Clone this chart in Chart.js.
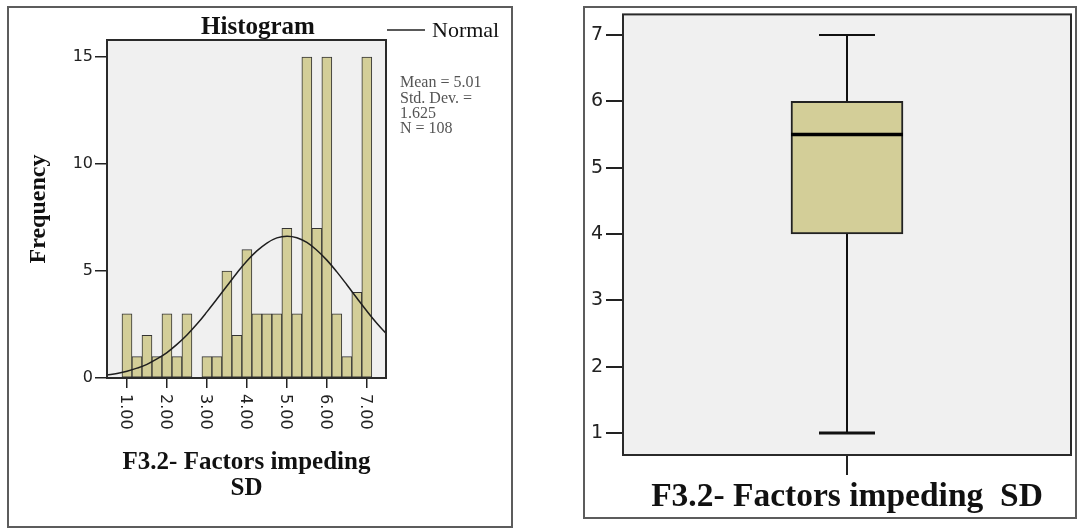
<!DOCTYPE html>
<html lang="en">
<head>
  <meta charset="UTF-8" />
  <title>F3.2- Factors impeding SD</title>
  <script src="https://cdn.jsdelivr.net/npm/chart.js"></script>
  <style>
    body {
      margin: 0;
      background: #fff;
    }
    .page {
      position: relative;
      width: 1080px;
      height: 529px;
      overflow: hidden;
    }
    .frame {
      position: absolute;
      border: 2px solid #5c5c5c;
      box-sizing: border-box;
    }
    .holder {
      position: absolute;
      top: 0;
      height: 529px;
    }
  </style>
</head>
<body>
  <div class="page">
    <div class="frame" style="left:7px;top:6px;width:506px;height:522px"></div>
    <div class="frame" style="left:583px;top:6px;width:494px;height:513px"></div>
    <div class="holder" style="left:0;width:540px"><canvas id="histChart"></canvas></div>
    <div class="holder" style="left:560px;width:520px"><canvas id="boxChart"></canvas></div>
  </div>

  <script>
    // histogram: bin midpoints (width 0.25) and counts
    const binMids = [1.00, 1.25, 1.50, 1.75, 2.00, 2.25, 2.50, 2.75, 3.00, 3.25, 3.50, 3.75, 4.00,
                     4.25, 4.50, 4.75, 5.00, 5.25, 5.50, 5.75, 6.00, 6.25, 6.50, 6.75, 7.00]
    const binCounts = [3, 1, 2, 1, 3, 1, 3, 0, 1, 1, 5, 2, 6, 3, 3, 3, 7, 3, 15, 7, 15, 3, 1, 4, 15]

    // fitted normal curve, sampled every 0.25
    const curveX = [0.50, 0.75, 1.00, 1.25, 1.50, 1.75, 2.00, 2.25, 2.50, 2.75, 3.00, 3.25, 3.50, 3.75, 4.00,
                    4.25, 4.50, 4.75, 5.00, 5.25, 5.50, 5.75, 6.00, 6.25, 6.50, 6.75, 7.00, 7.25, 7.50]
    const curveY = [0.14, 0.21, 0.32, 0.46, 0.64, 0.89, 1.19, 1.57, 2.01, 2.52, 3.09, 3.69, 4.30, 4.91, 5.47,
                    5.94, 6.31, 6.55, 6.63, 6.56, 6.34, 5.97, 5.51, 4.96, 4.36, 3.74, 3.13, 2.56, 2.05]

    const histTickLabels = ['1.00', '2.00', '3.00', '4.00', '5.00', '6.00', '7.00']
    const statLines = ['Mean = 5.01', 'Std. Dev. =', '1.625', 'N = 108']

    // box plot summary
    const boxQuartiles = [4, 6]
    const boxMedian = 5.5
    const boxWhiskers = [1, 7]

    const FILL = '#d3ce98'
    const SERIF = '"Liberation Serif", "Times New Roman", serif'
    const SANS = '"DejaVu Sans", Verdana, sans-serif'

    // grey plot background + dark outline round the chart area
    const plotFrame = {
      id: 'plotFrame',
      beforeDraw(chart) {
        const { ctx, chartArea: a } = chart
        ctx.save()
        ctx.fillStyle = '#f0f0f0'
        ctx.fillRect(a.left, a.top, a.right - a.left, a.bottom - a.top)
        ctx.restore()
      },
      afterDatasetsDraw(chart) {
        const { ctx, chartArea: a } = chart
        ctx.save()
        ctx.strokeStyle = '#2a2a2a'
        ctx.lineWidth = 2
        ctx.strokeRect(a.left, a.top, a.right - a.left, a.bottom - a.top)
        ctx.restore()
      }
    }

    // title, legend, stats box and the rotated x tick labels of the histogram
    const histDecor = {
      id: 'histDecor',
      afterDraw(chart) {
        const { ctx, scales: { x } } = chart
        ctx.save()
        ctx.fillStyle = '#111'
        ctx.textBaseline = 'middle'

        ctx.font = `bold 25px ${SERIF}`
        ctx.textAlign = 'center'
        ctx.fillText('Histogram', 258, 28)

        ctx.strokeStyle = '#222'
        ctx.lineWidth = 1.5
        ctx.beginPath()
        ctx.moveTo(387, 30)
        ctx.lineTo(425, 30)
        ctx.stroke()
        ctx.font = `22px ${SERIF}`
        ctx.textAlign = 'left'
        ctx.fillText('Normal', 432, 31)

        ctx.fillStyle = '#555'
        ctx.font = `16px ${SERIF}`
        statLines.forEach((s, i) => ctx.fillText(s, 400, 83 + i * 15.3))

        ctx.fillStyle = '#222'
        ctx.font = `16px ${SANS}`
        histTickLabels.forEach(lbl => {
          const px = x.getPixelForValue(parseFloat(lbl))
          ctx.save()
          ctx.translate(px - 2, 394)
          ctx.rotate(Math.PI / 2)
          ctx.fillText(lbl, 0, 0)
          ctx.restore()
        })
        ctx.restore()
      }
    }

    // whiskers, caps and median line on top of the box
    const boxParts = {
      id: 'boxParts',
      afterDatasetsDraw(chart) {
        const { ctx, scales: { y } } = chart
        const bar = chart.getDatasetMeta(0).data[0]
        const cx = bar.x
        const half = bar.width / 2
        const capHalf = half / 2
        const seg = (x1, y1, x2, y2, w) => {
          ctx.lineWidth = w
          ctx.beginPath()
          ctx.moveTo(x1, y1)
          ctx.lineTo(x2, y2)
          ctx.stroke()
        }
        ctx.save()
        ctx.strokeStyle = '#111'
        seg(cx, y.getPixelForValue(boxQuartiles[1]), cx, y.getPixelForValue(boxWhiskers[1]), 2)
        seg(cx, y.getPixelForValue(boxQuartiles[0]), cx, y.getPixelForValue(boxWhiskers[0]), 2)
        seg(cx - capHalf, y.getPixelForValue(boxWhiskers[1]), cx + capHalf, y.getPixelForValue(boxWhiskers[1]), 2)
        seg(cx - capHalf, y.getPixelForValue(boxWhiskers[0]), cx + capHalf, y.getPixelForValue(boxWhiskers[0]), 3)
        ctx.strokeStyle = '#000'
        seg(cx - half, y.getPixelForValue(boxMedian), cx + half, y.getPixelForValue(boxMedian), 3.5)
        ctx.restore()
      }
    }

    const histChart = new Chart(document.getElementById('histChart'), {
      type: 'bar',
      data: {
        datasets: [
          {
            type: 'line',
            label: 'Normal',
            data: curveX.map((x, i) => ({ x, y: curveY[i] })),
            borderColor: '#1e1e1e',
            borderWidth: 1.5,
            pointRadius: 0,
            tension: 0.4,
            order: 0
          },
          {
            label: 'Frequency',
            data: binMids.map((x, i) => ({ x, y: binCounts[i] })),
            backgroundColor: FILL,
            borderColor: '#333',
            borderWidth: 1,
            borderSkipped: false,
            barPercentage: 1,
            categoryPercentage: 1,
            order: 1
          }
        ]
      },
      options: {
        responsive: true,
        maintainAspectRatio: false,
        animation: false,
        layout: { padding: { top: 40, right: 154, bottom: 0, left: 0 } },
        plugins: { legend: { display: false }, tooltip: { enabled: false } },
        scales: {
          x: {
            type: 'linear',
            min: 0.5,
            max: 7.48,
            offset: false,
            afterFit: s => { s.height = 151 },
            ticks: { display: false, stepSize: 1, includeBounds: false },
            grid: { offset: false, drawOnChartArea: false, tickLength: 10, color: '#222', lineWidth: 1.5 },
            border: { display: false },
            title: {
              display: true,
              text: ['F3.2- Factors impeding', 'SD'],
              color: '#111',
              font: { family: SERIF, size: 25, weight: 'bold', lineHeight: 1.02 },
              padding: { top: 0, bottom: 28 }
            }
          },
          y: {
            min: 0,
            max: 15.8,
            afterFit: s => { s.width = 107 },
            ticks: { stepSize: 5, includeBounds: false, padding: 2, color: '#222', font: { family: SANS, size: 16 } },
            grid: { drawOnChartArea: false, tickLength: 12, color: '#222', lineWidth: 1.5 },
            border: { display: false },
            title: {
              display: true,
              text: 'Frequency',
              color: '#111',
              font: { family: SERIF, size: 24, weight: 'bold' },
              padding: { top: 24, bottom: 0 }
            }
          }
        }
      },
      plugins: [plotFrame, histDecor]
    })

    const boxChart = new Chart(document.getElementById('boxChart'), {
      type: 'bar',
      data: {
        labels: [''],
        datasets: [{
          data: [boxQuartiles],
          backgroundColor: FILL,
          borderColor: '#222',
          borderWidth: 2,
          borderSkipped: false,
          barThickness: 112
        }]
      },
      options: {
        responsive: true,
        maintainAspectRatio: false,
        animation: false,
        layout: { padding: { top: 12, right: 9, bottom: 0, left: 0 } },
        plugins: { legend: { display: false }, tooltip: { enabled: false } },
        scales: {
          x: {
            afterFit: s => { s.height = 74 },
            ticks: { display: false },
            grid: { offset: false, drawOnChartArea: false, tickLength: 20, color: '#222', lineWidth: 2 },
            border: { display: false },
            title: {
              display: true,
              text: 'F3.2- Factors impeding  SD',
              color: '#111',
              font: { family: SERIF, size: 33.5, weight: 'bold', lineHeight: 1.2 },
              padding: { top: 0, bottom: 12 }
            }
          },
          y: {
            min: 0.67,
            max: 7.31,
            afterFit: s => { s.width = 63 },
            ticks: { stepSize: 1, includeBounds: false, padding: 3, color: '#222', font: { family: SANS, size: 19 } },
            grid: { drawOnChartArea: false, tickLength: 17, color: '#222', lineWidth: 2 },
            border: { display: false }
          }
        }
      },
      plugins: [plotFrame, boxParts]
    })
  </script>
</body>
</html>
